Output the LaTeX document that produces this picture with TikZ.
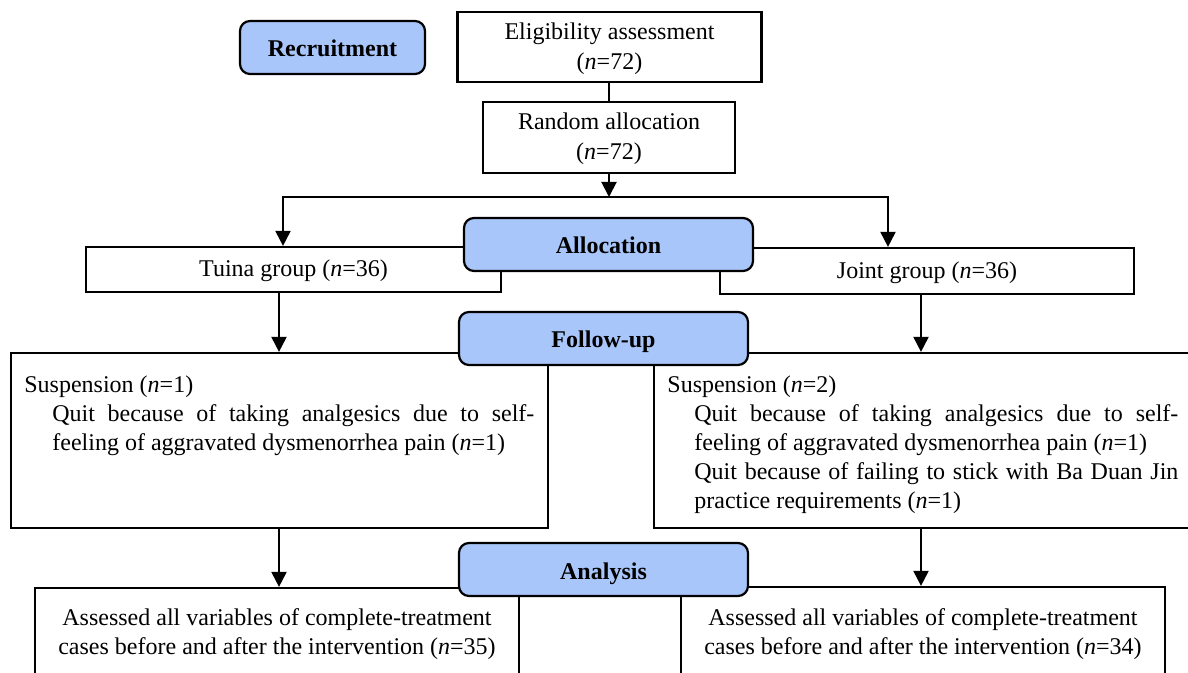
\documentclass[tikz,border=0pt]{standalone}
\usepackage{fontspec}
\setmainfont{Liberation Serif}
\usetikzlibrary{arrows.meta,calc}
\definecolor{stageblue}{RGB}{168,198,250}
\newcommand{\gstr}{\rule[-3pt]{0pt}{13.5pt}}
\newcommand{\sstr}{\rule[-3pt]{0pt}{15.5pt}}
\begin{document}
\begin{tikzpicture}[x=0.5pt,y=-0.5pt,
  txt/.style={font=\fontsize{12}{14.5}\selectfont, inner sep=0pt},
  grp/.style={draw=black, line width=1.1pt, fill=white, inner sep=0pt, font=\fontsize{12}{15}\selectfont, align=center},
  stage/.style={draw=black, line width=1.1pt, fill=stageblue, rounded corners=5pt, inner sep=0pt, font=\fontsize{12}{15}\selectfont\bfseries},
  arr/.style={line width=1pt, -{Triangle[length=7.5pt,width=7.5pt]}},
  ln/.style={line width=1pt}]
\useasboundingbox (0,0) rectangle (1188,673);
\clip (0,0) rectangle (1188,673);
% group boxes
\node[grp, minimum width=152pt, minimum height=35pt] (elig) at (609.5,47) {\gstr Eligibility assessment\\\gstr(\textit{n}=72)};
\node[grp, minimum width=126pt, minimum height=35.5pt] (rand) at (609,137.5) {\gstr Random allocation\\\gstr(\textit{n}=72)};
\node[grp, minimum width=207.5pt, minimum height=22.5pt] (tuina) at (293.5,269.5) {\gstr Tuina group (\textit{n}=36)};
\node[grp, minimum width=207pt, minimum height=23pt] (joint) at (927,271) {\gstr Joint group (\textit{n}=36)};
\node[grp, minimum width=268.5pt, minimum height=87.5pt] (susL) at (279.5,440.5) {};
\node[grp, minimum width=273pt, minimum height=87.5pt] (susR) at (927,440.5) {};
\node[grp, minimum width=242pt, minimum height=66pt] (assL) at (277,654) {};
\node[grp, minimum width=242pt, minimum height=66.5pt] (assR) at (923,653.5) {};
% texts
\node[txt, anchor=north west, text width=262pt, align=flush left] (susLt) at (24,375) {\spaceskip=0pt\xspaceskip=0pt Suspension (\textit{n}=1)\\
\hspace*{14pt}\makebox[241pt][l]{Quit\hfill because\hfill of\hfill taking\hfill analgesics\hfill due\hfill to\hfill self-}\\
\hspace*{14pt}feeling of aggravated dysmenorrhea pain (\textit{n}=1)};
\node[txt, anchor=north west, text width=262pt, align=flush left] (susRt) at (667,375) {\spaceskip=0pt\xspaceskip=0pt Suspension (\textit{n}=2)\\
\hspace*{13.5pt}\makebox[242pt][l]{Quit\hfill because\hfill of\hfill taking\hfill analgesics\hfill due\hfill to\hfill self-}\\
\hspace*{13.5pt}feeling of aggravated dysmenorrhea pain (\textit{n}=1)\\
\hspace*{13.5pt}\makebox[242pt][l]{Quit\hfill because\hfill of\hfill failing\hfill to\hfill stick\hfill with\hfill Ba\hfill Duan\hfill Jin}\\
\hspace*{13.5pt}practice requirements (\textit{n}=1)};
\node[txt, align=center] (assLt) at (277,634) {Assessed all variables of complete-treatment\\cases before and after the intervention (\textit{n}=35)};
\node[txt, align=center] (assRt) at (923,634) {Assessed all variables of complete-treatment\\cases before and after the intervention (\textit{n}=34)};
% stage boxes
\node[stage, minimum width=92.5pt, minimum height=26.5pt] (rec) at (332.5,47.5) {\sstr Recruitment};
\node[stage, minimum width=144.5pt, minimum height=26.5pt] (alloc) at (608.5,244.5) {\sstr Allocation};
\node[stage, minimum width=144.5pt, minimum height=26.5pt] (follow) at (603.5,338.5) {\sstr Follow-up};
\node[stage, minimum width=144.5pt, minimum height=26.5pt] (analysis) at (603.5,569.5) {\sstr Analysis};
% connectors
\coordinate (split) at (609,197);
\coordinate (sL) at (283,0);
\coordinate (sR) at (888,0);
\coordinate (cL) at (279,0);
\coordinate (cR) at (921,0);
\draw[ln] (elig.south -| rand.north) -- (rand.north);
\draw[arr] (rand.south) -- (split);
\draw[arr] (split) -| (tuina.north -| sL);
\draw[arr] (split) -| (joint.north -| sR);
\draw[arr] (tuina.south -| cL) -- (susL.north -| cL);
\draw[arr] (joint.south -| cR) -- (susR.north -| cR);
\draw[arr] (susL.south -| cL) -- (assL.north -| cL);
\draw[arr] (susR.south -| cR) -- (assR.north -| cR);
\end{tikzpicture}
\end{document}
